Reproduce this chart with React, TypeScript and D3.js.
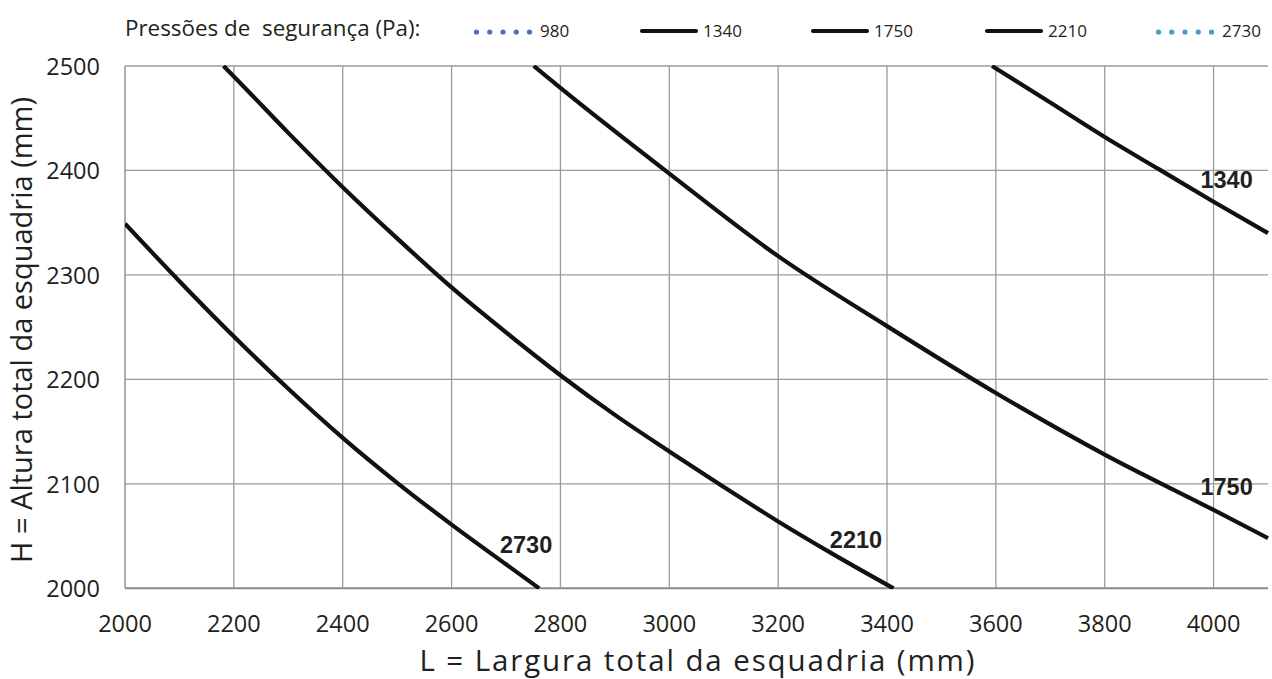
import React from 'react';
import * as d3 from 'd3';

// ---- data ----
const xTicks = [2000, 2200, 2400, 2600, 2800, 3000, 3200, 3400, 3600, 3800, 4000];
const yTicks = [2000, 2100, 2200, 2300, 2400, 2500];
const seriesNames = ['980', '1340', '1750', '2210', '2730'];

const s980: [number, number][] = [];
const s1340: [number, number][] = [
  [3593, 2500], [3700, 2465], [3800, 2432], [3900, 2401], [4000, 2370], [4100, 2340],
];
const s1750: [number, number][] = [
  [2751, 2500], [2800, 2479], [3000, 2397], [3200, 2318], [3400, 2251], [3600, 2187],
  [3800, 2128], [4000, 2075], [4100, 2048],
];
const s2210: [number, number][] = [
  [2181, 2500], [2200, 2490], [2300, 2436], [2400, 2384], [2500, 2335], [2600, 2288],
  [2700, 2245], [2800, 2204], [2900, 2166], [3000, 2131], [3100, 2097], [3200, 2064],
  [3300, 2033], [3412, 2000],
];
const s2730: [number, number][] = [
  [2000, 2349], [2100, 2294], [2200, 2241], [2300, 2191], [2400, 2144], [2500, 2101],
  [2600, 2061], [2700, 2023], [2761, 2000],
];
const seriesData = [s980, s1340, s1750, s2210, s2730];

// curve labels (data coordinates of label centre)
const labelNames = ['1340', '1750', '2210', '2730'];
const labelL = [4024, 4024, 3343, 2737];
const labelH = [2391, 2097, 2046, 2041];

const legendTitle = 'Pressões de  segurança (Pa):';
const legendKinds = ['dots', 'line', 'line', 'line', 'dots'];
const legendColors = ['#4a72b4', '#111111', '#111111', '#111111', '#3fa0c4'];

const xTitle = 'L = Largura total da esquadria (mm)';
const yTitle = 'H = Altura total da esquadria (mm)';

// ---- layout ----
const W = 1272;
const H = 679;
const left = 125;
const right = 1268;
const top = 66;
const bottom = 588.3;
const legendX = [474, 640, 811, 985, 1156];
const legendMarkerW = 58;
const legendY = 31;

const textColor = '#231f20';
const font = "'Open Sans', 'Noto Sans', sans-serif";

export default function App() {
  const x = d3.scaleLinear().domain([2000, 4100]).range([left, right]);
  const y = d3.scaleLinear().domain([2000, 2500]).range([bottom, top]);
  const line = d3
    .line<[number, number]>()
    .x((d) => x(d[0]))
    .y((d) => y(d[1]))
    .curve(d3.curveMonotoneX);

  return (
    <svg
      width={W}
      height={H}
      style={{ position: 'absolute', left: 0, top: 0, background: '#fff' }}
    >
      <defs>
        <clipPath id="plotClip">
          <rect x={left} y={top - 1} width={right - left + 2} height={bottom - top + 2} />
        </clipPath>
      </defs>
      <rect x={0} y={0} width={W} height={H} fill="#fff" />

      {/* horizontal grid */}
      {yTicks.map((t) => (
        <line
          key={'h' + t}
          x1={left}
          x2={right}
          y1={y(t)}
          y2={y(t)}
          stroke={t === 2000 ? '#8a8a8a' : '#9a9a9a'}
          strokeWidth={t === 2000 ? 2 : 1.3}
        />
      ))}
      {/* vertical grid */}
      {xTicks.map((t) => (
        <line
          key={'v' + t}
          x1={x(t)}
          x2={x(t)}
          y1={top}
          y2={bottom}
          stroke="#9a9a9a"
          strokeWidth={t === 2000 ? 1.6 : 1.3}
        />
      ))}

      {/* curves */}
      <g clipPath="url(#plotClip)">
        {seriesData.map((s, i) =>
          s.length ? (
            <path
              key={'s' + i}
              d={line(s) || ''}
              fill="none"
              stroke="#111111"
              strokeWidth={4.2}
              strokeLinejoin="round"
            />
          ) : null
        )}
      </g>

      {/* curve labels */}
      {labelNames.map((n, i) => (
        <text
          key={'lab' + n}
          x={x(labelL[i])}
          y={y(labelH[i])}
          textAnchor="middle"
          dominantBaseline="central"
          fontFamily="'Liberation Sans', Arial, sans-serif"
          fontWeight="bold"
          fontSize={23.5}
          fill={textColor}
        >
          {n}
        </text>
      ))}

      {/* y tick labels */}
      {yTicks.map((t) => (
        <text
          key={'yt' + t}
          x={100}
          y={y(t)}
          textAnchor="end"
          dominantBaseline="central"
          fontFamily={font}
          fontSize={23.5}
          fill={textColor}
        >
          {t}
        </text>
      ))}
      {/* x tick labels */}
      {xTicks.map((t) => (
        <text
          key={'xt' + t}
          x={x(t)}
          y={632}
          textAnchor="middle"
          fontFamily={font}
          fontSize={23.5}
          fill={textColor}
        >
          {t}
        </text>
      ))}

      {/* axis titles */}
      <text
        x={697}
        y={671}
        textAnchor="middle"
        fontFamily={font}
        fontSize={29.5}
        textLength={555}
        lengthAdjust="spacing"
        fill={textColor}
      >
        {xTitle}
      </text>
      <text
        transform={`translate(32, ${(95 + 565) / 2}) rotate(-90)`}
        textAnchor="middle"
        fontFamily={font}
        fontSize={29}
        fill={textColor}
      >
        {yTitle}
      </text>

      {/* legend */}
      <text
        x={125}
        y={36}
        fontFamily={font}
        fontSize={22.4}
        fill={textColor}
        style={{ whiteSpace: 'pre' }}
      >
        {legendTitle}
      </text>
      {seriesNames.map((n, i) => {
        const x0 = legendX[i];
        const kind = legendKinds[i];
        return (
          <g key={'lg' + n}>
            {kind === 'line' ? (
              <line
                x1={x0 + 2}
                x2={x0 + legendMarkerW - 2}
                y1={legendY}
                y2={legendY}
                stroke={legendColors[i]}
                strokeWidth={4.2}
                strokeLinecap="round"
              />
            ) : (
              d3.range(5).map((k) => (
                <circle
                  key={k}
                  cx={x0 + 2.5 + k * ((legendMarkerW - 5) / 4)}
                  cy={legendY + 1}
                  r={2.6}
                  fill={legendColors[i]}
                />
              ))
            )}
            <text
              x={x0 + legendMarkerW + (kind === 'line' ? 5 : 8)}
              y={37}
              fontFamily={font}
              fontSize={17}
              fill={textColor}
            >
              {n}
            </text>
          </g>
        );
      })}
    </svg>
  );
}
